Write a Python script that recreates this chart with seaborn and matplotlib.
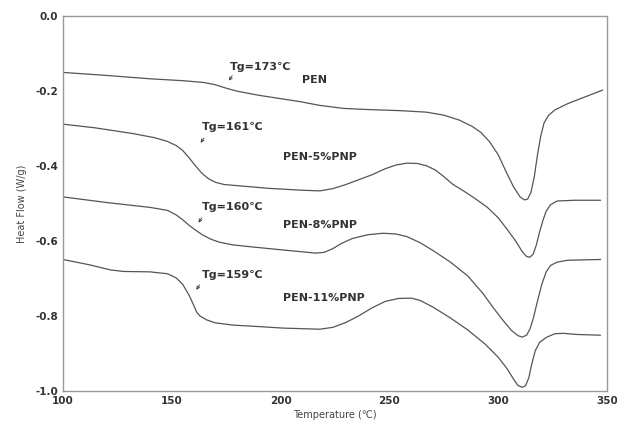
import numpy as np
import pandas as pd
import matplotlib
matplotlib.use('Agg')
import matplotlib.pyplot as plt
from matplotlib.ticker import MultipleLocator
import seaborn as sns
sns.set_style('white')
plt.rcParams['font.family'] = ['DejaVu Sans']

# DSC curves
pen_x = [100, 120, 140, 155, 165, 170, 175, 180, 190, 200, 209, 218, 229, 240, 255, 267, 275, 282, 288, 292, 296, 300, 304, 307, 310, 312, 313.5, 315, 316.5, 318, 319.5, 321, 323, 326, 332, 340, 348]
pen_y = [-0.150, -0.158, -0.167, -0.172, -0.177, -0.183, -0.192, -0.200, -0.211, -0.220, -0.228, -0.238, -0.246, -0.249, -0.252, -0.256, -0.264, -0.277, -0.294, -0.310, -0.335, -0.370, -0.420, -0.455, -0.482, -0.490, -0.488, -0.470, -0.430, -0.370, -0.320, -0.285, -0.265, -0.250, -0.233, -0.215, -0.197]

pnp5_x = [100, 115, 132, 142, 148, 152, 155, 158, 161, 164, 167, 170, 174, 180, 194, 209, 218, 224, 230, 236, 242, 248, 253, 258, 263, 267, 271, 275, 279, 284, 289, 295, 300, 304, 308, 311, 313, 314.5, 316, 317.5, 319, 320.5, 322, 324, 327, 335, 347]
pnp5_y = [-0.288, -0.298, -0.313, -0.324, -0.334, -0.345, -0.358, -0.378, -0.400, -0.420, -0.434, -0.443, -0.449, -0.452, -0.459, -0.464, -0.466, -0.460, -0.449, -0.436, -0.423, -0.407, -0.397, -0.392, -0.393, -0.399, -0.410, -0.428, -0.448, -0.466, -0.485, -0.510, -0.538, -0.568, -0.600, -0.628, -0.641, -0.643, -0.635, -0.610, -0.575, -0.545, -0.520, -0.503, -0.493, -0.491, -0.491]

pnp8_x = [100, 120, 140, 148, 152, 155, 158, 161, 164, 168, 172, 178, 186, 200, 209, 216, 220, 224, 228, 233, 240, 247, 253, 258, 264, 270, 278, 286, 293, 298, 302, 306, 309, 311, 313, 314.5, 316, 318, 320, 322, 324, 327, 332, 347]
pnp8_y = [-0.482, -0.497, -0.510, -0.518, -0.530, -0.543, -0.558, -0.571, -0.583, -0.595, -0.603, -0.610, -0.615, -0.623, -0.628, -0.632, -0.630, -0.620, -0.606, -0.593, -0.583, -0.579, -0.581, -0.588, -0.604, -0.625, -0.656, -0.693, -0.740, -0.780, -0.810, -0.838, -0.852, -0.856, -0.851, -0.835, -0.808, -0.760, -0.715, -0.682, -0.665, -0.656, -0.651, -0.649]

pnp11_x = [100, 112, 122, 128, 140, 148, 152, 155, 158, 160, 161.5, 163, 166, 170, 178, 190, 201, 218, 224, 230, 236, 242, 248, 254, 260, 264, 270, 278, 286, 294, 300, 304, 307, 309, 311, 312.5, 314, 315.5, 317, 319, 322, 326, 330, 336, 347]
pnp11_y = [-0.649, -0.663, -0.677, -0.681, -0.682, -0.687, -0.698, -0.715, -0.745, -0.770, -0.790, -0.800, -0.810, -0.818, -0.824, -0.828, -0.832, -0.835, -0.830, -0.817, -0.799, -0.778, -0.761, -0.753, -0.752, -0.758, -0.776, -0.805, -0.837, -0.875, -0.910, -0.940, -0.968, -0.985, -0.990, -0.986, -0.965, -0.925, -0.892, -0.870, -0.857, -0.847, -0.846, -0.849, -0.851]

names = ['PEN', 'PEN-5%PNP', 'PEN-8%PNP', 'PEN-11%PNP']
tg_labels = ['Tg=173℃', 'Tg=161℃', 'Tg=160℃', 'Tg=159℃']

frames = []
for n, xs, ys in zip(names, [pen_x, pnp5_x, pnp8_x, pnp11_x], [pen_y, pnp5_y, pnp8_y, pnp11_y]):
    frames.append(pd.DataFrame({'T': xs, 'HF': ys, 'sample': n}))
df = pd.concat(frames, ignore_index=True)

fig, ax = plt.subplots(figsize=(6.17, 4.26), dpi=100)
fig.subplots_adjust(left=0.102, right=0.984, top=0.962, bottom=0.082)

sns.lineplot(data=df, x='T', y='HF', units='sample', estimator=None, sort=False,
             color='#555555', linewidth=0.9, ax=ax)

# Tg annotations (text pos, arrow tip)
tg_text = [(176.5, -0.136), (164, -0.295), (164, -0.509), (164, -0.691)]
tg_tip = [(175.5, -0.178), (162.5, -0.344), (161.5, -0.557), (160.5, -0.736)]
for lab, (tx, ty), (px, py) in zip(tg_labels, tg_text, tg_tip):
    ax.text(tx, ty, lab, fontsize=8, fontweight='bold', color='#333333', ha='left', va='center')
    ax.annotate('', xy=(px, py), xytext=(px + 3.0, py + 0.025),
                arrowprops=dict(arrowstyle='->', color='#444444', lw=0.7, mutation_scale=5))

name_pos = [(210, -0.171), (201, -0.376), (201, -0.557), (201, -0.752)]
for n, (nx, ny) in zip(names, name_pos):
    ax.text(nx, ny, n, fontsize=8, fontweight='bold', color='#333333', ha='left', va='center')

ax.set_xlim(100, 350)
ax.set_ylim(-1.0, 0.0)
ax.xaxis.set_major_locator(MultipleLocator(50))
ax.xaxis.set_minor_locator(MultipleLocator(12.5))
ax.yaxis.set_major_locator(MultipleLocator(0.2))
ax.yaxis.set_minor_locator(MultipleLocator(0.05))
ax.set_yticks(ax.get_yticks())
ax.set_yticklabels([f'{v:.1f}' for v in ax.get_yticks()])
ax.set_ylim(-1.0, 0.0)
ax.tick_params(which='both', direction='in', color='#888888', labelsize=7.5, labelcolor='#333333')
ax.tick_params(which='major', length=4)
ax.tick_params(which='minor', length=2)
for lbl in ax.get_xticklabels() + ax.get_yticklabels():
    lbl.set_fontweight('bold')
for s in ax.spines.values():
    s.set_color('#999999')
    s.set_linewidth(1.0)

ax.set_xlabel('Temperature (℃)', fontsize=7, color='#444444', labelpad=3)
ax.set_ylabel('Heat Flow (W/g)', fontsize=7, color='#444444', labelpad=6)

fig.savefig('out.png', dpi=100)
